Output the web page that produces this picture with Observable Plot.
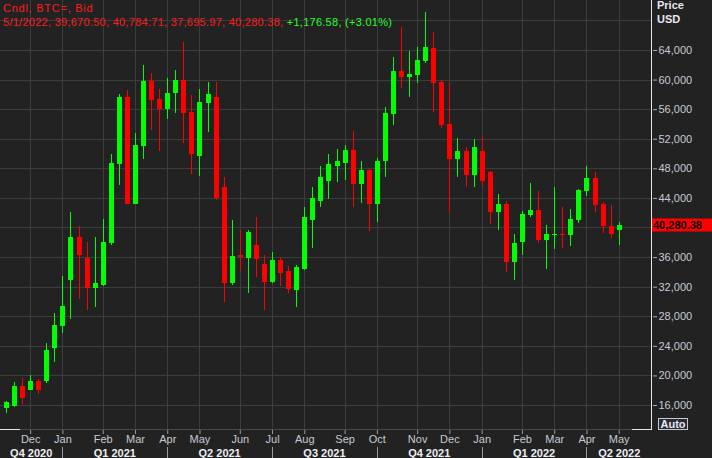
<!DOCTYPE html>
<html><head><meta charset="utf-8">
<script src="https://cdn.jsdelivr.net/npm/d3@7"></script>
<script src="https://cdn.jsdelivr.net/npm/@observablehq/plot@0.6"></script>
<style>html,body{margin:0;padding:0;background:#222222;} svg{display:block}</style>
</head><body><div id="chart"></div>
<script>
// Weekly candles (week labels, Sunday-based) from 15 Nov 2020 to 1 May 2022
const weeks = d3.utcWeek.range(new Date("2020-11-15T00:00:00Z"), new Date("2022-05-02T00:00:00Z"));

const open = [15639,15909,18573,18032,19249,19249,23751,26725,32945,38718,35878,31863,32228,37947,48628,57646,43220,51061,59809,57375,56023,58186,59944,55618,49669,56875,57646,45478,32458,36284,35878,37636,35067,32674,35608,34121,31597,34391,41016,43625,46289,48317,48763,50480,45924,47776,43220,49033,55388,61161,60350,60661,62513,64270,59714,53995,49304,50345,47141,50345,47506,42098,43179,35378,38082,41692,42368,38353,38960,39120,38988,41057,44977,46694,43179,40205,39670.50];
const high = [16585,19073,19654,20060,19520,24386,28442,33445,42098,40205,38082,38718,41151,49939,58051,58592,52738,61972,60931,58687,60174,61296,65122,57916,58687,59633,59714,46870,41016,39664,39600,41381,36284,36730,35973,34797,34932,42814,45518,48317,49939,50615,51156,53049,48993,47870,49439,56253,63094,67150,63865,64406,69138,66434,59900,59498,52102,50886,52008,52238,47700,44491,43585,39083,42273,45978,44937,40340,45437,42814,42503,45167,48357,47546,43490,43044,40784.71];
const low = [14882,15734,16180,17990,17491,18978,21818,25738,27631,30295,28848,29186,32025,37636,45789,43139,43139,49304,53184,50345,54712,55523,51386,47195,46965,52954,43720,29970,32228,34161,31106,33350,28848,32458,32093,31106,29294,34256,37190,42814,43855,46194,46424,42814,43355,39569,40786,46870,53860,58903,57686,59579,62202,55658,53495,42098,46870,45518,45518,45613,40475,39664,34026,32904,36284,41462,37947,34351,37055,37190,37501,40570,44301,42138,39299,38623,37695.97];
const close = [16450,18573,16992,19249,18032,23440,26820,29389,38718,36284,31863,32498,38082,48682,57646,43220,51115,59809,57240,56023,58186,59944,55482,49939,57010,58051,44031,32498,36149,36014,39434,35784,32674,35608,33891,31687,34662,41381,43990,46870,48587,48993,50480,45924,47776,43220,48993,55482,61161,60390,60755,62648,64406,59538,53901,49304,50345,47141,50886,46289,42098,43179,35378,37906,41827,42368,38353,39123,39120,38960,41151,45072,46694,43085,40245,39103.80,40280.38];

// 40,000 label is hidden behind the last-price tag in the reference
const yTicks = [16000,20000,24000,28000,32000,36000,44000,48000,52000,56000,60000,64000];
const yGrid = [16000,20000,24000,28000,32000,36000,40000,44000,48000,52000,56000,60000,64000,68000];
const monthTicks = ["2020-12-06","2021-01-03","2021-02-07","2021-03-07","2021-04-04","2021-05-02","2021-06-06","2021-07-04","2021-08-01","2021-09-05","2021-10-03","2021-11-07","2021-12-05","2022-01-02","2022-02-06","2022-03-06","2022-04-03","2022-05-01"].map(s => new Date(s + "T00:00:00Z"));
const quarterLabels = ["Q4 2020","Q1 2021","Q2 2021","Q3 2021","Q4 2021","Q1 2022","Q2 2022"];
const quarterStarts = ["2021-01-03","2021-04-04","2021-07-04","2021-10-03","2022-01-02","2022-04-03"].map(s => new Date(s + "T00:00:00Z"));
const headerTitle = "Cndl, BTC=, Bid";

const candles = weeks.map((date, i) => ({date, open: open[i], high: high[i], low: low[i], close: close[i]}));
const colorOf = d => d.close >= d.open ? "#00ff00" : "#ff0000";

const WEEK = 7 * 864e5;
const FONT = "'Liberation Sans', Arial, sans-serif";

const chart = Plot.plot({
  width: 712, height: 458,
  marginLeft: 0, marginRight: 60, marginTop: 0, marginBottom: 28,
  style: {background: "#222222", color: "#c6cbd3", fontFamily: FONT, fontSize: "11px"},
  x: {type: "utc", domain: [new Date(+weeks[0] - 0.744 * WEEK), new Date(+weeks[0] + 80.13 * WEEK)]},
  y: {domain: [12620, 70760]},
  marks: [
    Plot.ruleY(yGrid, {stroke: "#3c3c3c", shapeRendering: "crispEdges"}),
    Plot.ruleX(monthTicks, {stroke: "#3c3c3c", shapeRendering: "crispEdges"}),
    Plot.axisY({ticks: yTicks, anchor: "right", tickFormat: d3.format(","), tickSize: 4, tickPadding: 2, stroke: "#aaaaaa", fill: "#c6cbd3", fontSize: 11, label: null}),
    Plot.axisX({ticks: monthTicks, tickFormat: d3.utcFormat("%b"), tickSize: 4, tickPadding: 1, stroke: "#9a9a9a", fill: "#c6cbd3", fontSize: 11, label: null}),
    Plot.ruleX(candles, {x: "date", y1: "low", y2: "high", stroke: colorOf, strokeWidth: 1, shapeRendering: "crispEdges"}),
    Plot.ruleX(candles, {x: "date", y1: "open", y2: "close", stroke: colorOf, strokeWidth: 5, shapeRendering: "crispEdges"})
  ]
});
document.getElementById("chart").appendChild(chart);

const svg = d3.select(chart);
const xs = chart.scale("x"), ys = chart.scale("y");
const plotRight = 652, plotBottom = 430;
const txt = (x, y) => svg.append("text").attr("x", x).attr("y", y).attr("text-anchor", "start")
  .attr("font-family", FONT).attr("font-size", 11);

// frame lines
svg.append("line").attr("x1", 0).attr("x2", plotRight).attr("y1", plotBottom - 0.5).attr("y2", plotBottom - 0.5).attr("stroke", "#4a4a4a");
svg.append("line").attr("x1", 0).attr("x2", 20).attr("y1", plotBottom - 0.5).attr("y2", plotBottom - 0.5).attr("stroke", "#e6e6e6");
svg.append("line").attr("x1", 632).attr("x2", plotRight).attr("y1", plotBottom - 0.5).attr("y2", plotBottom - 0.5).attr("stroke", "#e6e6e6");
svg.append("line").attr("x1", plotRight - 0.5).attr("x2", plotRight - 0.5).attr("y1", 0).attr("y2", plotBottom).attr("stroke", "#e6e6e6");

// quarter row
const bounds = [0, ...quarterStarts.map(d => xs.apply(d)), plotRight];
quarterStarts.forEach(d => {
  const x = Math.round(xs.apply(d)) + 0.5;
  svg.append("line").attr("x1", x).attr("x2", x).attr("y1", 447).attr("y2", 458).attr("stroke", "#9a9a9a");
});
quarterLabels.forEach((q, i) => {
  txt((bounds[i] + bounds[i + 1]) / 2, 456.5).attr("text-anchor", "middle")
    .attr("font-weight", "bold").attr("fill", "#eceef2").text(q);
});

// last price label
const last = candles[candles.length - 1], prev = candles[candles.length - 2];
const yl = ys.apply(last.close);
svg.append("rect").attr("x", plotRight).attr("y", Math.round(yl) - 6.5).attr("width", 60).attr("height", 13).attr("fill", "#ff0000");
txt(plotRight + 1, Math.round(yl) + 4).attr("font-weight", "bold").attr("fill", "#000").text(d3.format(",.2f")(last.close));

// header
const f2 = d3.format(",.2f");
txt(3, 12).attr("fill", "#ff1a1a").attr("letter-spacing", "0.75px").text(headerTitle);
const chg = last.close - prev.close;
const h2 = txt(3, 26).attr("letter-spacing", "0.27px");
h2.append("tspan").attr("fill", "#ff1a1a").text(`${d3.utcFormat("%-m/%-d/%Y")(last.date)}, ${f2(last.open)}, ${f2(last.high)}, ${f2(last.low)}, ${f2(last.close)}, `);
h2.append("tspan").attr("fill", "#22ff22").text(`${chg >= 0 ? "+" : ""}${f2(chg)}, (${chg >= 0 ? "+" : ""}${d3.format(".2f")(chg / prev.close * 100)}%)`);

// axis title
txt(657, 9).attr("font-weight", "bold").attr("fill", "#e6e8ee").text("Price");
txt(657, 23).attr("font-weight", "bold").attr("fill", "#e6e8ee").text("USD");

// Auto box
svg.append("rect").attr("x", 658.5).attr("y", 418.5).attr("width", 29).attr("height", 11).attr("fill", "#2a2a34").attr("stroke", "#c8c8d0");
txt(673, 428).attr("text-anchor", "middle").attr("font-weight", "bold").attr("fill", "#e6e8f0").text("Auto");
</script>
</body></html>
